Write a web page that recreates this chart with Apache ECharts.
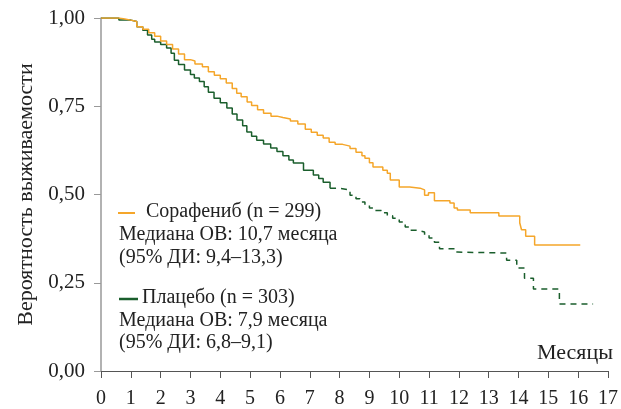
<!DOCTYPE html>
<html>
<head>
<meta charset="utf-8">
<script src="https://cdn.jsdelivr.net/npm/echarts@6/dist/echarts.min.js"></script>
<style>html,body{margin:0;padding:0;background:#fff}#c{width:621px;height:409px}</style>
</head>
<body>
<div id="c"></div>
<script>
var FONT = '"Liberation Serif","DejaVu Serif",serif';
var xTicks = [0,1,2,3,4,5,6,7,8,9,10,11,12,13,14,15,16,17];
var yTickLabels = ['0,00','0,25','0,50','0,75','1,00'];

var sorafenibT = [0,0.3,0.6,0.8,1.0,1.2,1.4,1.6,1.8,2.0,2.2,2.4,2.6,2.8,3.0,3.15,3.4,3.6,3.8,4.0,4.2,4.4,4.55,4.7,4.9,5.05,5.25,5.45,5.7,5.9,6.1,6.35,6.6,6.85,7.05,7.25,7.45,7.65,7.85,8.1,8.35,8.55,8.75,8.85,9.0,9.12,9.45,9.6,9.7,10.0,10.35,10.7,10.85,10.98,11.18,11.7,11.84,11.95,12.38,13.34,14.04,14.1,14.24,14.54,16.07];
var sorafenibS = [1.0,1.0,0.997,0.994,0.99,0.975,0.968,0.958,0.948,0.935,0.925,0.912,0.898,0.882,0.878,0.87,0.862,0.848,0.838,0.828,0.816,0.8,0.787,0.777,0.762,0.752,0.74,0.73,0.722,0.718,0.714,0.708,0.7,0.685,0.676,0.668,0.66,0.648,0.642,0.637,0.63,0.62,0.61,0.603,0.59,0.578,0.569,0.56,0.541,0.521,0.518,0.513,0.498,0.505,0.482,0.476,0.462,0.456,0.448,0.439,0.42,0.4,0.382,0.357,0.357];

var placeboSolidT = [0,0.5,0.6,1.0,1.2,1.4,1.56,1.7,1.8,2.0,2.2,2.35,2.46,2.6,2.8,3.0,3.13,3.3,3.46,3.6,3.79,4.0,4.22,4.4,4.56,4.75,4.89,5.05,5.22,5.45,5.69,5.9,6.1,6.3,6.45,6.79,7.12,7.3,7.45,7.68];
var placeboSolidS = [1.0,1.0,0.994,0.99,0.975,0.965,0.952,0.94,0.932,0.925,0.915,0.9,0.88,0.868,0.853,0.84,0.83,0.82,0.805,0.79,0.773,0.76,0.745,0.728,0.711,0.695,0.677,0.665,0.654,0.643,0.632,0.622,0.61,0.598,0.589,0.569,0.555,0.545,0.535,0.518];
var placeboDashT = [7.68,8.0,8.35,8.55,8.68,8.85,9.0,9.2,9.4,9.6,9.78,10.0,10.2,10.35,10.6,10.85,11.0,11.18,11.35,11.87,11.95,13.6,13.94,14.2,14.5,15.37,16.5];
var placeboDashS = [0.518,0.513,0.498,0.488,0.479,0.47,0.462,0.455,0.448,0.44,0.433,0.422,0.408,0.399,0.394,0.385,0.377,0.365,0.346,0.337,0.334,0.314,0.292,0.263,0.232,0.19,0.19];

var ORANGE = '#F5A62A', GREEN = '#1A5E2C';
function pairs(t, s){ return t.map(function(v,i){ return [v, s[i]]; }); }

var chart = echarts.init(document.getElementById('c'), null, {renderer:'canvas'});
chart.setOption({
  animation:false,
  grid:{left:101, right:8, top:18, bottom:38},
  xAxis:{
    type:'value', min:0, max:17, interval:1,
    axisLine:{show:true, lineStyle:{color:'#555', width:1}},
    axisTick:{show:true, inside:false, length:7, lineStyle:{color:'#555'}},
    axisLabel:{color:'#222', fontFamily:FONT, fontSize:20, margin:18,
      formatter:function(v){ return xTicks.indexOf(v) >= 0 ? String(v) : ''; }},
    splitLine:{show:false}
  },
  yAxis:{
    type:'value', min:0, max:1, interval:0.25,
    name:'Вероятность выживаемости', nameLocation:'middle', nameGap:57,
    nameTextStyle:{color:'#222', fontFamily:FONT, fontSize:22},
    axisLine:{show:true, lineStyle:{color:'#999', width:1.5}},
    axisTick:{show:true, inside:false, length:7, lineStyle:{color:'#999'}},
    axisLabel:{color:'#222', fontFamily:FONT, fontSize:21, margin:16,
      formatter:function(v){ return yTickLabels[Math.round(v*4)]; }},
    splitLine:{show:false}
  },
  series:[
    {type:'line', step:'end', showSymbol:false, data:pairs(sorafenibT, sorafenibS),
     lineStyle:{color:ORANGE, width:1.5}, z:3},
    {type:'line', step:'end', showSymbol:false, data:pairs(placeboSolidT, placeboSolidS),
     lineStyle:{color:GREEN, width:1.5}, z:2},
    {type:'line', step:'end', showSymbol:false, data:pairs(placeboDashT, placeboDashS),
     lineStyle:{color:GREEN, width:1.5, type:[6,5]}, z:2}
  ],
  graphic:[
    {type:'line', shape:{x1:118,y1:213,x2:135,y2:213}, style:{stroke:ORANGE, lineWidth:2}},
    {type:'text', left:146, top:202, style:{text:'Сорафениб (n = 299)', font:'20px '+FONT, fill:'#222'}},
    {type:'text', left:119, top:225, style:{text:'Медиана ОВ: 10,7 месяца', font:'20px '+FONT, fill:'#222'}},
    {type:'text', left:119, top:248, style:{text:'(95% ДИ: 9,4–13,3)', font:'20px '+FONT, fill:'#222'}},
    {type:'line', shape:{x1:119,y1:299,x2:138,y2:299}, style:{stroke:GREEN, lineWidth:2.5}},
    {type:'text', left:142, top:288, style:{text:'Плацебо (n = 303)', font:'20px '+FONT, fill:'#222'}},
    {type:'text', left:119, top:311, style:{text:'Медиана ОВ: 7,9 месяца', font:'20px '+FONT, fill:'#222'}},
    {type:'text', left:119, top:333, style:{text:'(95% ДИ: 6,8–9,1)', font:'20px '+FONT, fill:'#222'}},
    {type:'text', right:8, top:342, style:{text:'Месяцы', font:'22px '+FONT, fill:'#222'}}
  ]
});
</script>
</body>
</html>
